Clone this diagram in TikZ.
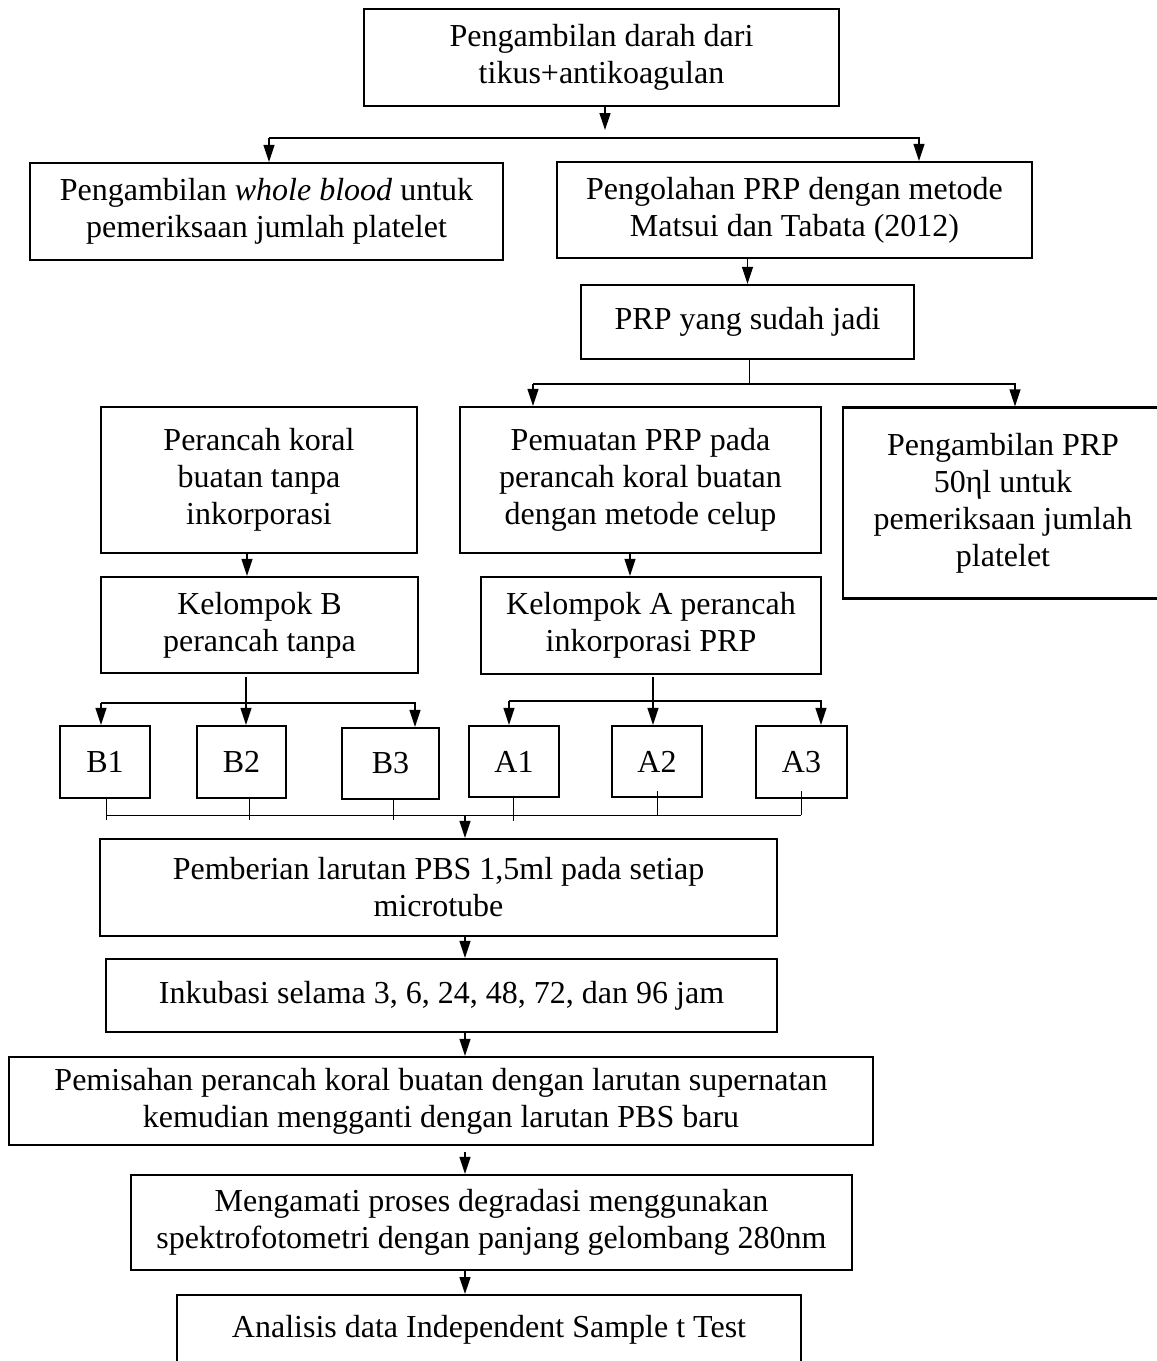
\documentclass[tikz,border=0pt]{standalone}
\usepackage{fontspec}
\setmainfont{Liberation Serif}
\usetikzlibrary{arrows.meta,calc}
\begin{document}
\begin{tikzpicture}[x=1pt,y=-1pt,
  box/.style={draw,line width=2.2pt,rectangle,align=center,inner sep=0pt,
    font=\fontsize{32}{37}\selectfont},
  conn/.style={line width=1.3pt},
  thin/.style={line width=0.9pt},
  arr/.style={conn,-{Triangle[length=17pt,width=11pt]}}]
\useasboundingbox (0,0) rectangle (1157,1361);
\clip (0,0) rectangle (1157,1361);

\node[box,minimum width=475,minimum height=97] (top) at (601.5,57.5) {Pengambilan darah dari\\tikus+antikoagulan};
\node[box,minimum width=473,minimum height=97] (wb) at (266.5,211.5) {Pengambilan \textit{whole blood} untuk\\pemeriksaan jumlah platelet};
\node[box,minimum width=475,minimum height=96] (olah) at (794.5,210) {Pengolahan PRP dengan metode\\Matsui dan Tabata (2012)};
\node[box,minimum width=333,minimum height=74] (prp) at (747.5,322) {PRP yang sudah jadi};
\node[box,minimum width=316,minimum height=146] (perancah) at (259,480) {Perancah koral\\buatan tanpa\\inkorporasi};
\node[box,minimum width=361,minimum height=146] (pemuatan) at (640.5,480) {Pemuatan PRP pada\\perancah koral buatan\\dengan metode celup};
\node[box,minimum width=320,minimum height=191] (ambil) at (1003,503) {Pengambilan PRP\\50ηl untuk\\pemeriksaan jumlah\\platelet};
\node[box,minimum width=317,minimum height=96] (kelB) at (259.5,625) {Kelompok B\\perancah tanpa};
\node[box,minimum width=340,minimum height=97] (kelA) at (651,625.5) {Kelompok A perancah\\inkorporasi PRP};

\node[box,minimum width=90,minimum height=72] (B1) at (105,762) {B1};
\node[box,minimum width=89,minimum height=72] (B2) at (241.5,762) {B2};
\node[box,minimum width=97,minimum height=71] (B3) at (390.5,763.5) {B3};
\node[box,minimum width=90,minimum height=71] (A1) at (514,761.5) {A1};
\node[box,minimum width=90,minimum height=71] (A2) at (657,761.5) {A2};
\node[box,minimum width=91,minimum height=72] (A3) at (801.5,762) {A3};

\node[box,minimum width=677,minimum height=97] (pbs) at (438.5,887.5) {Pemberian larutan PBS 1,5ml pada setiap\\microtube};
\node[box,minimum width=671,minimum height=73] (inkub) at (441.5,995.5) {Inkubasi selama 3, 6, 24, 48, 72, dan 96 jam};
\node[box,minimum width=864,minimum height=88] (pisah) at (441,1101) {Pemisahan perancah koral buatan dengan larutan supernatan\\kemudian mengganti dengan larutan PBS baru};
\node[box,minimum width=721,minimum height=95] (amati) at (491.5,1222.5) {Mengamati proses degradasi menggunakan\\spektrofotometri dengan panjang gelombang 280nm};
\node[box,minimum width=624,anchor=north,inner ysep=9pt,text height=33pt,text depth=60pt] (analisis) at (489,1294) {Analisis data Independent Sample t Test};

% top split
\coordinate (s1) at (605,130);
\draw[arr] (top.south -| s1) -- (s1);
\coordinate (h1L) at (269,138);
\coordinate (h1R) at (919,138);
\draw[arr] (h1L) -- (h1L |- wb.north);
\draw[arr] (h1L) -- (h1R) -- (h1R |- olah.north);

% olah -> prp
\draw[arr] (prp.north |- olah.south) -- (prp.north);

% prp split
\coordinate (h2) at (749,384);
\coordinate (h2L) at (533,384);
\coordinate (h2R) at (1015,384);
\draw[thin] (prp.south -| h2) -- (h2);
\draw[arr] (h2L) -- (h2L |- pemuatan.north);
\draw[arr] (h2L) -- (h2R) -- (h2R |- ambil.north);

% to groups
\coordinate (cB) at (247,0);
\coordinate (cA) at (630,0);
\draw[arr] (perancah.south -| cB) -- (kelB.north -| cB);
\draw[arr] (pemuatan.south -| cA) -- (kelA.north -| cA);

% kelB split
\coordinate (kB) at (246,677);
\coordinate (hBL) at (101,703);
\coordinate (hBR) at (415,703);
\draw[arr] (kB) -- (kB |- B2.north);
\draw[arr] (hBL) -- (hBL |- B1.north);
\draw[arr] (hBL) -- (hBR) -- (hBR |- B3.north);

% kelA split
\coordinate (kA) at (653,677);
\coordinate (hAL) at (509,701);
\coordinate (hAR) at (821,701);
\draw[arr] (kA) -- (kA |- A2.north);
\draw[arr] (hAL) -- (hAL |- A1.north);
\draw[arr] (hAL) -- (hAR) -- (hAR |- A3.north);

% collect
\coordinate (m) at (465,815);
\draw[thin] (106,815) -- (801,815);
\draw[thin] (B1.south -| 106,0) -- (106,820);
\draw[thin] (B2.south -| 249,0) -- (249,820);
\draw[thin] (B3.south -| 393,0) -- (393,820);
\draw[thin] (A1.south -| 513,0) -- (513,821);
\draw[thin] (657,791) -- (657,815);
\draw[thin] (801,791) -- (801,815);
\draw[arr] (m) -- (m |- pbs.north);

% lower chain
\draw[arr] (pbs.south -| m) -- (inkub.north -| m);
\draw[arr] (inkub.south -| m) -- (pisah.north -| m);
\coordinate (p1) at (465,1152);
\draw[arr] (p1) -- (p1 |- amati.north);
\draw[arr] (amati.south -| m) -- (analisis.north -| m);
\end{tikzpicture}
\end{document}
